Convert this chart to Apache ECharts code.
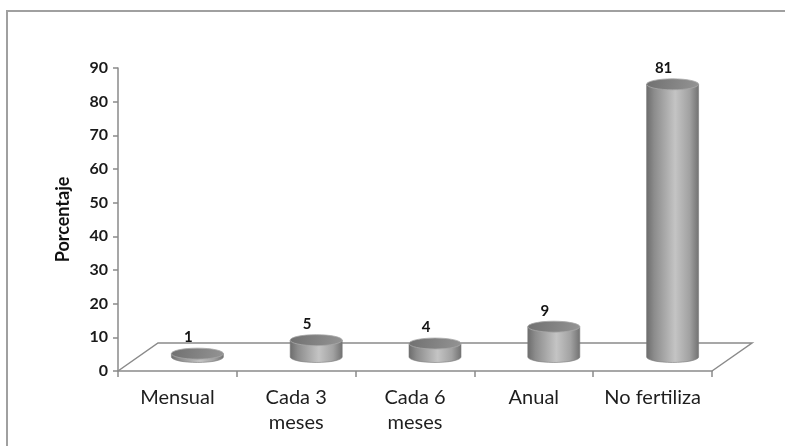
<!DOCTYPE html>
<html>
<head>
<meta charset="utf-8">
<script src="https://cdn.jsdelivr.net/npm/echarts@6/dist/echarts.min.js"></script>
<style>
  html, body { margin: 0; padding: 0; background: #ffffff; }
  #chart { width: 785px; height: 446px; }
</style>
</head>
<body>
<div id="chart"></div>
<script>
// Frecuencia de fertilización (porcentaje de productores)
const categories = ['Mensual', 'Cada 3\nmeses', 'Cada 6\nmeses', 'Anual', 'No fertiliza'];
const values = [1, 5, 4, 9, 81];
const yTicks = { min: 0, max: 90, interval: 10 };
const yTitle = 'Porcentaje';

// Oblique depth of the floor (full depth) and cylinder geometry
const DEPTH = [40, -28];
const CYL_RX = 26;
const CYL_RY = 5.5;

const FONT = 'Lato, "Open Sans", sans-serif';

const chart = echarts.init(document.getElementById('chart'), null, { renderer: 'canvas' });

function sidePath(cx, ty, by, rx, ry) {
  return 'M' + (cx - rx) + ' ' + ty +
    ' L' + (cx - rx) + ' ' + by +
    ' A' + rx + ' ' + ry + ' 0 0 0 ' + (cx + rx) + ' ' + by +
    ' L' + (cx + rx) + ' ' + ty + ' Z';
}
function ellipsePath(cx, cy, rx, ry) {
  return 'M' + (cx - rx) + ' ' + cy +
    ' A' + rx + ' ' + ry + ' 0 1 0 ' + (cx + rx) + ' ' + cy +
    ' A' + rx + ' ' + ry + ' 0 1 0 ' + (cx - rx) + ' ' + cy + ' Z';
}

const option = {
  backgroundColor: '#ffffff',
  animation: false,
  graphic: [{
    type: 'rect',
    shape: { x: 7, y: 11, width: 800, height: 460 },
    style: { fill: 'none', stroke: '#a0a0a0', lineWidth: 2 },
    silent: true, z: -10
  }],
  grid: { left: 118, right: 73, top: 68, bottom: 75 },
  xAxis: {
    type: 'category',
    data: categories,
    boundaryGap: true,
    axisLine: { show: true, lineStyle: { color: '#8a8a8a', width: 1.5 } },
    axisTick: { show: true, length: 6, alignWithLabel: false, lineStyle: { color: '#8a8a8a', width: 1.5 } },
    axisLabel: {
      interval: 0, margin: 14, color: '#1e1e1e', fontFamily: FONT, fontSize: 20, lineHeight: 25
    },
    splitLine: { show: false }
  },
  yAxis: {
    type: 'value',
    min: yTicks.min, max: yTicks.max, interval: yTicks.interval,
    name: yTitle,
    nameLocation: 'middle',
    nameGap: 46,
    nameRotate: 90,
    nameTextStyle: { color: '#111', fontFamily: FONT, fontSize: 18, fontWeight: 'bold' },
    axisLine: { show: true, lineStyle: { color: '#8a8a8a', width: 1.5 } },
    axisTick: { show: true, length: 5, lineStyle: { color: '#8a8a8a', width: 1.5 } },
    axisLabel: { margin: 10, color: '#1a1a1a', fontFamily: FONT, fontSize: 16, fontWeight: 'bold' },
    splitLine: { show: false }
  },
  series: [
    {
      // floor of the 3D plot area
      type: 'custom',
      z: 1,
      data: [[0, 0]],
      silent: true,
      renderItem: function (params, api) {
        const band = api.size([1, 0])[0];
        const p0 = api.coord([0, 0]);
        const p1 = api.coord([categories.length - 1, 0]);
        const x0 = p0[0] - band / 2, x1 = p1[0] + band / 2, y = p0[1];
        return {
          type: 'polyline',
          shape: {
            points: [[x0, y], [x0 + DEPTH[0], y + DEPTH[1]], [x1 + DEPTH[0], y + DEPTH[1]], [x1, y]]
          },
          style: { fill: 'none', stroke: '#8a8a8a', lineWidth: 1.5 }
        };
      }
    },
    {
      // cylinders standing at mid depth of the floor
      type: 'custom',
      z: 2,
      data: values.map(function (v, i) { return [i, v]; }),
      encode: { x: 0, y: 1 },
      renderItem: function (params, api) {
        const i = api.value(0), v = api.value(1);
        const base = api.coord([i, 0]);
        const top = api.coord([i, v]);
        const cx = base[0] + DEPTH[0] / 2;
        const by = base[1] + DEPTH[1] / 2;
        const ty = top[1] + DEPTH[1] / 2;
        return {
          type: 'group',
          children: [
            {
              type: 'path',
              shape: { pathData: sidePath(cx, ty, by, CYL_RX, CYL_RY) },
              style: {
                fill: {
                  type: 'linear', x: 0, y: 0, x2: 1, y2: 0,
                  colorStops: [
                    { offset: 0, color: '#6c6c6c' },
                    { offset: 0.15, color: '#8c8c8c' },
                    { offset: 0.55, color: '#c4c4c4' },
                    { offset: 0.82, color: '#a2a2a2' },
                    { offset: 1, color: '#717171' }
                  ]
                },
                stroke: '#7a7a7a', lineWidth: 0.6
              }
            },
            {
              type: 'path',
              shape: { pathData: ellipsePath(cx, ty, CYL_RX, CYL_RY) },
              style: {
                fill: {
                  type: 'linear', x: 0, y: 0, x2: 1, y2: 1,
                  colorStops: [
                    { offset: 0, color: '#707070' },
                    { offset: 1, color: '#949494' }
                  ]
                },
                stroke: '#a8a8a8', lineWidth: 0.8
              }
            },
            {
              type: 'text',
              x: cx - 9,
              y: ty - CYL_RY - 3,
              style: {
                text: String(v),
                fill: '#141414',
                font: 'bold 15px ' + FONT,
                align: 'center',
                verticalAlign: 'bottom'
              }
            }
          ]
        };
      }
    }
  ]
};

chart.setOption(option);
</script>
</body>
</html>
